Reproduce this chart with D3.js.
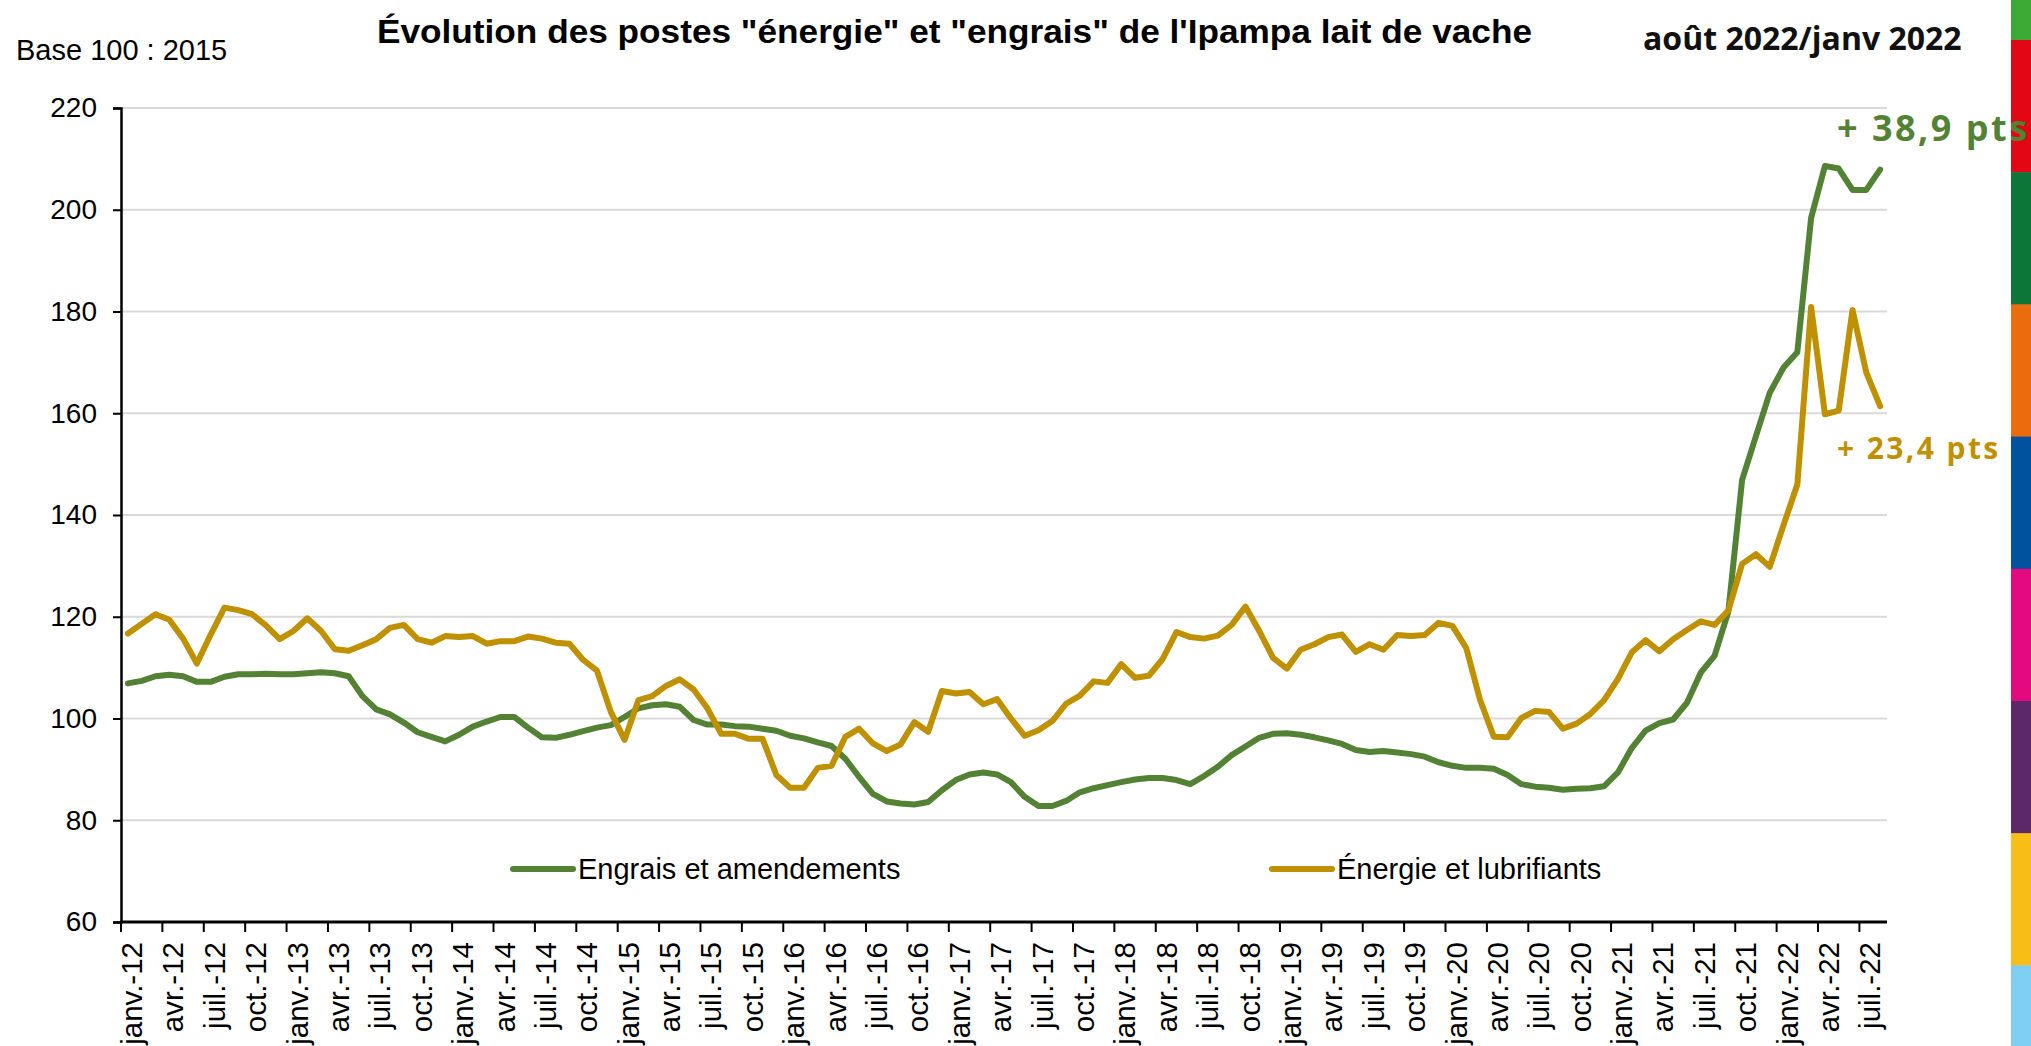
<!DOCTYPE html>
<html>
<head>
<meta charset="utf-8">
<script src="https://cdn.jsdelivr.net/npm/d3@7"></script>
<style>
  html, body { margin: 0; padding: 0; background: #fff; }
  svg { display: block; }
</style>
</head>
<body>
<svg id="chart" width="2031" height="1046"></svg>
<script>
// ---------- DATA ----------
const monthAbbr = ["janv.", "févr.", "mars", "avr.", "mai", "juin", "juil.", "août", "sept.", "oct.", "nov.", "déc."];
const years = ["12", "13", "14", "15", "16", "17", "18", "19", "20", "21", "22"];
const lastMonthIndex2022 = 7; // août-22

// Engrais et amendements (indice base 100 : 2015), janv.-12 -> août-22
const engrais = [
  106.9, 107.4, 108.3, 108.6, 108.3, 107.2, 107.2, 108.2, 108.7, 108.7, 108.8, 108.7,
  108.7, 108.9, 109.1, 108.9, 108.3, 104.4, 101.8, 100.8, 99.2, 97.3, 96.4, 95.5,
  96.8, 98.4, 99.4, 100.3, 100.3, 98.2, 96.3, 96.2, 96.8, 97.5, 98.2, 98.7,
  100.3, 102.0, 102.6, 102.8, 102.3, 99.7, 98.8, 98.8, 98.5, 98.4, 98.0, 97.6,
  96.6, 96.1, 95.3, 94.6, 92.1, 88.5, 85.2, 83.7, 83.3, 83.1, 83.6, 85.9,
  87.9, 89.0, 89.4, 89.0, 87.5, 84.6, 82.8, 82.8, 83.8, 85.5, 86.3, 86.9,
  87.5, 88.0, 88.3, 88.3, 87.9, 87.1, 88.7, 90.5, 92.8, 94.5, 96.2, 97.0,
  97.1, 96.8, 96.3, 95.7, 95.0, 93.8, 93.4, 93.6, 93.3, 93.0, 92.5, 91.4,
  90.7, 90.3, 90.3, 90.1, 88.9, 87.1, 86.6, 86.4, 86.0, 86.2, 86.3, 86.7,
  89.4, 94.2, 97.6, 99.1, 99.8, 103.1, 109.0, 112.3, 121.0, 146.9, 155.5, 164.0,
  169.0, 172.0, 198.4, 208.6, 208.1, 203.9, 203.9, 207.9
];

// Énergie et lubrifiants
const energie = [
  116.7, 118.6, 120.5, 119.4, 115.7, 110.8, 116.5, 121.8, 121.3, 120.5, 118.3, 115.6,
  117.2, 119.7, 117.2, 113.6, 113.3, 114.4, 115.6, 117.8, 118.4, 115.6, 114.9, 116.2,
  116.0, 116.2, 114.7, 115.2, 115.2, 116.1, 115.7, 114.9, 114.7, 111.5, 109.4, 101.3,
  95.8, 103.6, 104.4, 106.4, 107.7, 105.7, 102.0, 97.0, 97.0, 96.0, 96.0, 88.9,
  86.4, 86.4, 90.3, 90.7, 96.4, 98.0, 95.1, 93.6, 94.9, 99.3, 97.4, 105.4,
  104.9, 105.2, 102.8, 103.8, 100.0, 96.6, 97.7, 99.5, 102.9, 104.5, 107.3, 107.0,
  110.7, 108.0, 108.4, 111.7, 117.0, 116.0, 115.7, 116.3, 118.4, 122.0, 117.2, 111.9,
  109.8, 113.5, 114.6, 116.0, 116.5, 113.1, 114.6, 113.5, 116.4, 116.2, 116.4, 118.8,
  118.2, 113.9, 103.7, 96.4, 96.3, 100.1, 101.5, 101.3, 98.0, 99.0, 100.9, 103.6,
  107.8, 113.0, 115.4, 113.2, 115.6, 117.4, 119.1, 118.4, 121.2, 130.4, 132.3, 129.8,
  138.0, 146.0, 180.9, 159.8, 160.5, 180.3, 168.0, 161.4
];

const yTicks = [60, 80, 100, 120, 140, 160, 180, 200, 220];
const seriesNames = ["Engrais et amendements", "Énergie et lubrifiants"];
const seriesColors = ["#548235", "#BF9000"];
const titleText = "Évolution des postes \"énergie\" et \"engrais\" de l'Ipampa lait de vache";
const periodText = "août 2022/janv 2022";
const baseText = "Base 100 : 2015";
const annotations = ["+ 38,9 pts", "+ 23,4 pts"];
const sideBarColors = ["#3AAA35", "#E30613", "#0B7637", "#EC6B0D", "#00519E", "#E5097F", "#5C2867", "#F6BE16", "#7ECEF4"];

// categories
const months = [];
years.forEach((y, yi) => {
  monthAbbr.forEach((m, mi) => {
    if (yi === years.length - 1 && mi > lastMonthIndex2022) return;
    months.push(m + "-" + y);
  });
});

// ---------- CHART ----------
const svg = d3.select("#chart");
const W = 2031, H = 1046;
const plot = { left: 121, right: 1887, top: 108, bottom: 922 };
const sans = "'Liberation Sans', Arial, Helvetica, sans-serif";
const accentFont = "'Open Sans', 'Noto Sans', sans-serif";

const x = d3.scaleBand().domain(months).range([plot.left, plot.right]).paddingInner(0).paddingOuter(0);
const bw = x.bandwidth();
const y = d3.scaleLinear().domain([60, 220]).range([plot.bottom, plot.top]);

// side color bar
const segH = 132.2;
svg.append("g").selectAll("rect")
  .data(sideBarColors)
  .join("rect")
  .attr("x", 2011)
  .attr("width", 20)
  .attr("y", (d, i) => i === 0 ? 0 : 40 + (i - 1) * segH)
  .attr("height", (d, i) => i === 0 ? 40 : (i === sideBarColors.length - 1 ? H - (40 + (i - 1) * segH) : segH + 0.5))
  .attr("fill", d => d);

// gridlines
svg.append("g").selectAll("line")
  .data(yTicks.filter(t => t > 60))
  .join("line")
  .attr("x1", plot.left).attr("x2", plot.right)
  .attr("y1", d => y(d)).attr("y2", d => y(d))
  .attr("stroke", "#d9d9d9").attr("stroke-width", 2);

// y axis
const yAxis = d3.axisLeft(y).tickValues(yTicks).tickSize(8).tickPadding(16).tickFormat(d3.format("d"));
const gy = svg.append("g").attr("transform", `translate(${plot.left},0)`).call(yAxis);
gy.select(".domain").attr("stroke", "#000").attr("stroke-width", 2.5);
gy.selectAll(".tick line").attr("stroke", "#000").attr("stroke-width", 2);
gy.selectAll(".tick text").attr("font-family", sans).attr("font-size", 28).attr("fill", "#000");

// x axis : ticks at category boundaries every 3 months
const tickMonths = months.filter((m, i) => i % 3 === 0);
const gx = svg.append("g");
gx.append("line")
  .attr("x1", plot.left - 1).attr("x2", plot.right)
  .attr("y1", plot.bottom).attr("y2", plot.bottom)
  .attr("stroke", "#000").attr("stroke-width", 3);
gx.selectAll("line.tk")
  .data(tickMonths)
  .join("line").attr("class", "tk")
  .attr("x1", d => x(d)).attr("x2", d => x(d))
  .attr("y1", plot.bottom).attr("y2", plot.bottom + 10)
  .attr("stroke", "#000").attr("stroke-width", 2);
gx.selectAll("text")
  .data(tickMonths)
  .join("text")
  .attr("transform", d => `translate(${x(d) + 21},${plot.bottom + 20}) rotate(-90)`)
  .attr("text-anchor", "end")
  .attr("font-family", sans)
  .attr("font-size", 29.5)
  .attr("fill", "#000")
  .text(d => d);

// lines
const seriesData = [engrais, energie];
const line = d3.line()
  .x((d, i) => x(months[i]) + bw / 2)
  .y(d => y(d));

svg.append("g").selectAll("path")
  .data(seriesData)
  .join("path")
  .attr("d", d => line(d))
  .attr("fill", "none")
  .attr("stroke", (d, i) => seriesColors[i])
  .attr("stroke-width", 6)
  .attr("stroke-linejoin", "round")
  .attr("stroke-linecap", "round");

// legend
const legendPos = [513, 1272];
const leg = svg.append("g");
seriesNames.forEach((name, i) => {
  leg.append("line")
    .attr("x1", legendPos[i]).attr("x2", legendPos[i] + 60)
    .attr("y1", 869).attr("y2", 869)
    .attr("stroke", seriesColors[i]).attr("stroke-width", 6)
    .attr("stroke-linecap", "round");
  leg.append("text")
    .attr("x", legendPos[i] + 65).attr("y", 879)
    .attr("font-family", sans).attr("font-size", 29).attr("fill", "#000")
    .text(name);
});

// texts
svg.append("text")
  .attr("x", 16).attr("y", 60)
  .attr("font-family", sans).attr("font-size", 29).attr("fill", "#000")
  .text(baseText);

svg.append("text")
  .attr("x", 377).attr("y", 43)
  .attr("font-family", sans).attr("font-size", 34).attr("font-weight", "bold").attr("fill", "#000")
  .attr("textLength", 1155).attr("lengthAdjust", "spacingAndGlyphs")
  .text(titleText);

svg.append("text")
  .attr("x", 1643).attr("y", 50)
  .attr("font-family", accentFont).attr("font-size", 32).attr("font-weight", 700).attr("fill", "#111")
  .text(periodText);

svg.append("text")
  .attr("x", 1837).attr("y", 141)
  .attr("font-family", accentFont).attr("font-size", 36).attr("font-weight", 700)
  .attr("letter-spacing", 2.5).attr("fill", seriesColors[0])
  .text(annotations[0]);

svg.append("text")
  .attr("x", 1837).attr("y", 459)
  .attr("font-family", accentFont).attr("font-size", 30).attr("font-weight", 700)
  .attr("letter-spacing", 2.4).attr("fill", seriesColors[1])
  .text(annotations[1]);
</script>
</body>
</html>
